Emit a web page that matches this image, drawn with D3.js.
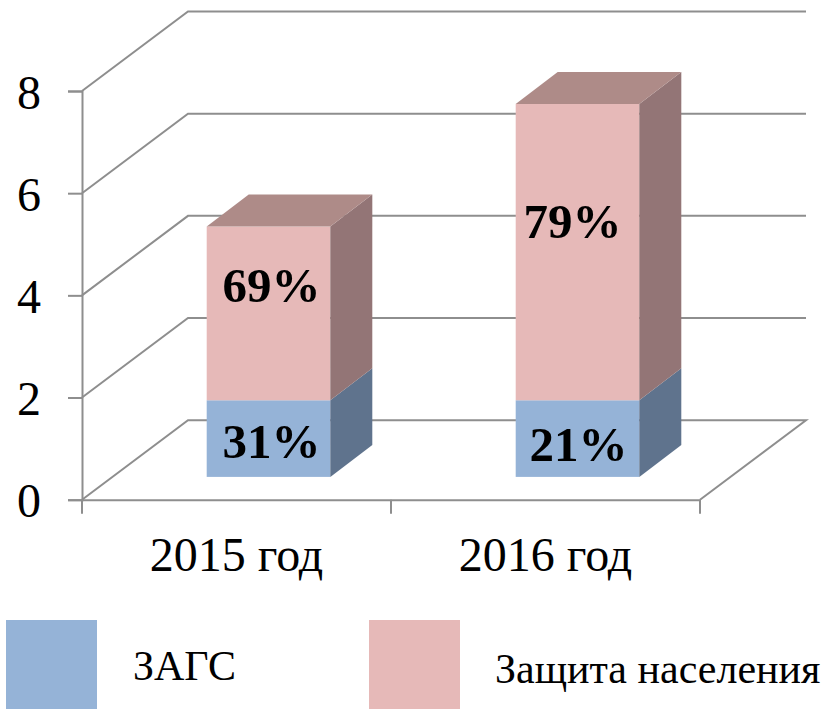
<!DOCTYPE html>
<html>
<head>
<meta charset="utf-8">
<script src="https://d3js.org/d3.v7.min.js"></script>
<style>
    html, body { margin: 0; padding: 0; background: #fff; }
    svg { display: block; }
    text { font-family: "Liberation Serif", serif; fill: #000; }
    .grid { fill: none; stroke: #8e8e8e; stroke-width: 2; }
</style>
</head>
<body>
<div id="chart"></div>
<script>
const categories = ['2015 год', '2016 год'];
const seriesNames = ['ЗАГС', 'Защита населения'];
const zagsValues = [1.5, 1.5];
const zashchitaValues = [3.4, 5.8];
const zagsLabels = ['31%', '21%'];
const zashchitaLabels = ['69%', '79%'];
const yTicks = [0, 2, 4, 6, 8];

const width = 821;
const height = 709;

// wall depth and bar depth of the fake 3d
const wall = { dx: 106, dy: -79.5 };
const bar = { dx: 42, dy: -32, x: 32, y: -22.8 };

const frontColors = ['#95b3d7', '#e6b9b8'];
const sideColors = ['#5f738d', '#937576'];
const topColor = '#ae8b88';

const svg = d3.select('#chart').append('svg')
    .attr('width', width)
    .attr('height', height);

const xScale = d3.scaleBand()
    .domain(categories)
    .range([82, 700])
    .paddingInner(0.6)
    .paddingOuter(0.3);

const yScale = d3.scaleLinear()
    .domain([0, 8])
    .range([499.7, 91]);

const step = xScale.step();
const x0 = xScale.range()[0];
const x1 = xScale.range()[1];
const y0 = yScale(0);

// back wall lines and floor
const gridG = svg.append('g');
gridG.selectAll('path.wall').data(yTicks.filter(d => d > 0))
    .enter()
    .append('path')
    .attr('class', 'grid wall')
    .attr('d', d => d3.line()([
        [x0, yScale(d)],
        [x0 + wall.dx, yScale(d) + wall.dy],
        [x1 + wall.dx, yScale(d) + wall.dy]
    ]));
gridG.append('path')
    .attr('class', 'grid')
    .attr('d', d3.line()([
        [x0, y0],
        [x0 + wall.dx, y0 + wall.dy],
        [x1 + wall.dx, y0 + wall.dy],
        [x1, y0]
    ]));

// axes
const yAxis = d3.axisLeft(yScale)
    .tickValues(yTicks)
    .tickSize(14)
    .tickPadding(27)
    .tickFormat(d3.format('d'));
const yAxisG = svg.append('g')
    .attr('transform', `translate(${x0},0)`)
    .call(yAxis);

const xAxis = d3.axisBottom(xScale)
    .tickSize(0)
    .tickPadding(37);
const xAxisG = svg.append('g')
    .attr('transform', `translate(0,${y0})`)
    .call(xAxis);

xAxisG.selectAll('.tickmark').data(d3.range(categories.length + 1))
    .enter()
    .append('line')
    .attr('class', 'tickmark grid')
    .attr('x1', d => x0 + d * step)
    .attr('x2', d => x0 + d * step)
    .attr('y1', 0)
    .attr('y2', 14);

svg.selectAll('.domain').attr('stroke', '#8e8e8e').attr('stroke-width', 2);
svg.selectAll('.tick line').attr('stroke', '#8e8e8e').attr('stroke-width', 2);
yAxisG.selectAll('text')
    .style('font-size', '48px')
    .style('font-family', '"Liberation Serif", serif')
    .attr('dy', '0.36em');
xAxisG.selectAll('text')
    .style('font-size', '48px')
    .style('font-family', '"Liberation Serif", serif');

// stacked bars
const stackData = categories.map((c, i) => ({ category: c, z: zagsValues[i], p: zashchitaValues[i] }));
const layers = d3.stack().keys(['z', 'p'])(stackData);
const px = d => xScale(d.data.category) + bar.x;
const py = v => yScale(v) + bar.y;

const layerG = svg.selectAll('g.layer').data(layers)
    .enter()
    .append('g')
    .attr('class', 'layer');

layerG.selectAll('rect').data(d => d)
    .enter()
    .append('rect')
    .attr('x', px)
    .attr('y', d => py(d[1]))
    .attr('width', xScale.bandwidth())
    .attr('height', d => py(d[0]) - py(d[1]))
    .attr('fill', function () { return frontColors[d3.select(this.parentNode).datum().index]; });

layerG.selectAll('path.side').data(d => d)
    .enter()
    .append('path')
    .attr('class', 'side')
    .attr('fill', function () { return sideColors[d3.select(this.parentNode).datum().index]; })
    .attr('d', d => {
        const r = px(d) + xScale.bandwidth();
        return d3.line()([
            [r, py(d[0])],
            [r + bar.dx, py(d[0]) + bar.dy],
            [r + bar.dx, py(d[1]) + bar.dy],
            [r, py(d[1])]
        ]) + 'Z';
    });

svg.selectAll('path.top').data(layers[1])
    .enter()
    .append('path')
    .attr('class', 'top')
    .attr('fill', topColor)
    .attr('d', d => {
        const l = px(d);
        const r = l + xScale.bandwidth();
        const t = py(d[1]);
        return d3.line()([
            [l, t],
            [l + bar.dx, t + bar.dy],
            [r + bar.dx, t + bar.dy],
            [r, t]
        ]) + 'Z';
    });

// data labels sit a bit off centre in the picture
const labelNudgeX = [[3, 1], [3, -5]];
const labelNudgeY = [[19.5, 22.5], [-11.5, -14]];
[zagsLabels, zashchitaLabels].forEach((labels, s) => {
    svg.selectAll(`text.label${s}`).data(layers[s])
        .enter()
        .append('text')
        .attr('class', `label${s}`)
        .attr('text-anchor', 'middle')
        .style('font-size', '49px')
        .style('font-weight', 'bold')
        .attr('x', (d, i) => px(d) + xScale.bandwidth() / 2 + labelNudgeX[s][i])
        .attr('y', (d, i) => (py(d[0]) + py(d[1])) / 2 + labelNudgeY[s][i])
        .text((d, i) => labels[i]);
});

// legend
const legendBox = [{ x: 6, w: 91 }, { x: 369, w: 91 }];
const legendText = [{ x: 133, y: 680, size: 42 }, { x: 495, y: 683, size: 42 }];
svg.selectAll('rect.legend').data(seriesNames)
    .enter()
    .append('rect')
    .attr('class', 'legend')
    .attr('x', (d, i) => legendBox[i].x)
    .attr('y', 620)
    .attr('width', (d, i) => legendBox[i].w)
    .attr('height', 89)
    .attr('fill', (d, i) => frontColors[i]);
svg.selectAll('text.legend').data(seriesNames)
    .enter()
    .append('text')
    .attr('class', 'legend')
    .attr('x', (d, i) => legendText[i].x)
    .attr('y', (d, i) => legendText[i].y)
    .style('font-size', (d, i) => legendText[i].size + 'px')
    .text(d => d);
</script>
</body>
</html>
